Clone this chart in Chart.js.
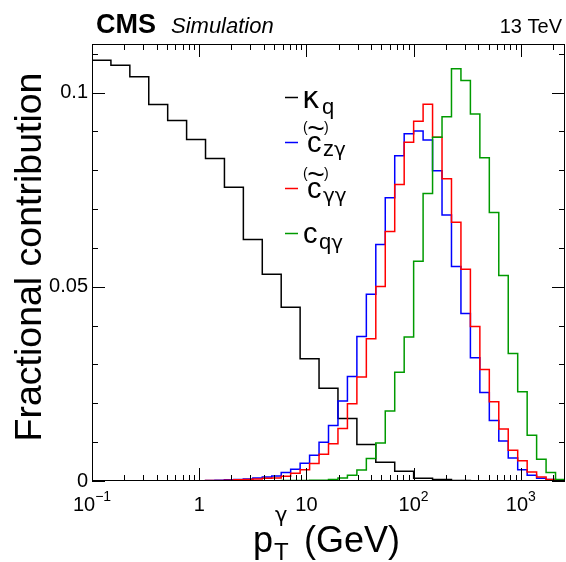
<!DOCTYPE html>
<html>
<head>
<meta charset="utf-8">
<script src="https://cdn.jsdelivr.net/npm/chart.js@4.4.1/dist/chart.umd.min.js"></script>
<style>
  html, body { margin: 0; padding: 0; background: #fff; }
</style>
</head>
<body>
<canvas id="ptChart" width="566" height="562"></canvas>
<script>
// histogram binning (log-spaced in pT)
const xMin = 0.1;
const xMax = 2585;
const yMax = 0.1125;
const nBinsFine = 50;   // coloured histograms
const nBinsCoarse = 25; // kappa_q

// fractional contribution per bin
const kappaQ = [0.1083, 0.1070, 0.1041, 0.0969, 0.0928, 0.0879, 0.0830, 0.0756, 0.0622, 0.0532,
                0.0447, 0.0315, 0.0239, 0.0161, 0.0094, 0.0048, 0.0025, 0.0007, 0.0004, 0.0001,
                0, 0, 0, 0, 0];
const cZg = [0, 0, 0, 0, 0, 0, 0, 0, 0, 0,
             0, 0, 0.0001, 0.0002, 0.0003, 0.0004, 0.0005, 0.0008, 0.0010, 0.0013,
             0.0022, 0.0030, 0.0046, 0.0066, 0.0100, 0.0143, 0.0206, 0.0269, 0.0372, 0.0481,
             0.0609, 0.0729, 0.0837, 0.0894, 0.0901, 0.0878, 0.0799, 0.0685, 0.0552, 0.0431,
             0.0317, 0.0228, 0.0156, 0.0103, 0.0059, 0.0029, 0.0015, 0.0007, 0.0004, 0.0002];
const cGg = [0, 0, 0, 0, 0, 0, 0, 0, 0, 0,
             0, 0, 0.0001, 0.0001, 0.0002, 0.0003, 0.0004, 0.0005, 0.0007, 0.0008,
             0.0012, 0.0020, 0.0029, 0.0045, 0.0069, 0.0096, 0.0135, 0.0199, 0.0268, 0.0366,
             0.0501, 0.0642, 0.0763, 0.0872, 0.0926, 0.0970, 0.0885, 0.0778, 0.0666, 0.0545,
             0.0398, 0.0287, 0.0204, 0.0134, 0.0079, 0.0052, 0.0023, 0.0010, 0.0004, 0.0002];
const cQg = [0, 0, 0, 0, 0, 0, 0, 0, 0, 0,
             0, 0, 0, 0, 0, 0, 0, 0, 0, 0,
             0.0001, 0.0001, 0.0001, 0.0002, 0.0002, 0.0004, 0.0008, 0.0015, 0.0028, 0.0058,
             0.0098, 0.0180, 0.0280, 0.0371, 0.0566, 0.0740, 0.0885, 0.0938, 0.1061, 0.1031,
             0.0945, 0.0832, 0.0691, 0.0529, 0.0328, 0.0230, 0.0118, 0.0056, 0.0022, 0.0004];

// axis ticks
const xTickValues = [0.1, 1, 10, 100, 1000];
const xTickBase = ['10', '1', '10', '10', '10'];
const xTickExp = ['\u22121', '', '', '2', '3'];
const yTickValues = [0, 0.05, 0.1];
const yTickLabels = ['0', '0.05', '0.1'];

const FONT = "'Liberation Sans', Arial, Helvetica, sans-serif";
const GREEK = "'DejaVu Sans', 'Liberation Sans', sans-serif";

// turn bin contents into step points (low edge of every bin + closing edge)
function histPoints(values, nBins) {
    const lo = Math.log10(xMin), hi = Math.log10(xMax);
    const edge = i => Math.pow(10, lo + (hi - lo) * i / nBins);
    const pts = values.map((v, i) => ({ x: edge(i), y: v }));
    pts.push({ x: edge(nBins), y: values[nBins - 1] });
    return pts;
}

// frame, inward ticks, labels, titles and legend in ROOT style
const rootStyle = {
    id: 'rootStyle',
    afterDatasetsDraw(chart) {
        const { ctx, chartArea: a, scales: { x, y } } = chart;
        ctx.save();
        ctx.strokeStyle = '#000';
        ctx.lineWidth = 1;
        ctx.strokeRect(a.left + 0.5, a.top + 0.5, a.right - a.left - 1, a.bottom - a.top - 1);

        ctx.beginPath();
        // x ticks (bottom and top)
        for (let k = -1; k <= 3; k++) {
            for (let m = 1; m <= 9; m++) {
                const v = m * Math.pow(10, k);
                if (v < xMin || v > xMax) continue;
                const px = Math.round(x.getPixelForValue(v)) + 0.5;
                const len = m === 1 ? 13 : 6;
                ctx.moveTo(px, a.bottom); ctx.lineTo(px, a.bottom - len);
                ctx.moveTo(px, a.top); ctx.lineTo(px, a.top + len);
            }
        }
        // y ticks (left and right)
        for (let i = 0; i <= 11; i++) {
            const v = i * 0.01;
            const py = Math.round(y.getPixelForValue(v)) + 0.5;
            const len = (i % 5 === 0) ? 13 : 6;
            ctx.moveTo(a.left, py); ctx.lineTo(a.left + len, py);
            ctx.moveTo(a.right, py); ctx.lineTo(a.right - len, py);
        }
        ctx.stroke();
        ctx.restore();
    },
    afterDraw(chart) {
        const { ctx, chartArea: a, scales: { x, y } } = chart;
        ctx.save();
        ctx.fillStyle = '#000';

        // y tick labels
        ctx.font = '20px ' + FONT;
        ctx.textAlign = 'right';
        ctx.textBaseline = 'middle';
        yTickValues.forEach((v, i) => {
            ctx.fillText(yTickLabels[i], a.left - 4, y.getPixelForValue(v));
        });

        // x tick labels with exponents
        ctx.textBaseline = 'alphabetic';
        ctx.textAlign = 'left';
        xTickValues.forEach((v, i) => {
            const px = x.getPixelForValue(v);
            ctx.font = '20px ' + FONT;
            const wb = ctx.measureText(xTickBase[i]).width;
            ctx.font = '14px ' + FONT;
            const we = xTickExp[i] ? ctx.measureText(xTickExp[i]).width : 0;
            const x0 = px - (wb + we) / 2;
            ctx.font = '20px ' + FONT;
            ctx.fillText(xTickBase[i], x0, 511);
            if (xTickExp[i]) {
                ctx.font = '14px ' + FONT;
                ctx.fillText(xTickExp[i], x0 + wb, 501);
            }
        });

        // x axis title
        ctx.font = '36px ' + FONT;
        ctx.fillText('p', 253, 552);
        ctx.font = '24px ' + FONT;
        ctx.fillText('T', 274, 560);
        ctx.font = '21px ' + GREEK;
        ctx.fillText('\u03b3', 275, 522);
        ctx.font = '36px ' + FONT;
        ctx.fillText('(GeV)', 304, 552);

        // y axis title
        ctx.save();
        ctx.translate(41, 257);
        ctx.rotate(-Math.PI / 2);
        ctx.textAlign = 'center';
        ctx.font = '37.5px ' + FONT;
        ctx.fillText('Fractional contribution', 0, 0);
        ctx.restore();

        // header
        ctx.textAlign = 'left';
        ctx.font = 'bold 27px ' + FONT;
        ctx.fillText('CMS', 96, 33);
        ctx.font = 'italic 22px ' + FONT;
        ctx.fillText('Simulation', 171, 33);
        ctx.textAlign = 'right';
        ctx.font = '20px ' + FONT;
        ctx.fillText('13 TeV', 562, 33);

        // legend
        const legendLines = [
            { y: 97, color: '#000000' },
            { y: 142, color: '#0000ff' },
            { y: 188, color: '#ff0000' },
            { y: 233, color: '#009a00' }
        ];
        ctx.lineWidth = 1.5;
        legendLines.forEach(l => {
            ctx.strokeStyle = l.color;
            ctx.beginPath();
            ctx.moveTo(285, l.y + 0.5);
            ctx.lineTo(298, l.y + 0.5);
            ctx.stroke();
        });
        ctx.textAlign = 'left';
        ctx.fillStyle = '#000';
        // kappa_q
        ctx.font = '30px ' + GREEK;
        ctx.fillText('\u03ba', 302, 108);
        ctx.font = '22px ' + FONT;
        ctx.fillText('q', 322, 114);
        // c~ Z gamma and c~ gamma gamma
        [[152, 'z', '\u03b3'], [198, '', '\u03b3\u03b3']].forEach(([base, sub, greek]) => {
            ctx.font = '14px ' + FONT;
            ctx.fillText('(', 303, base - 20);
            ctx.fillText(')', 324, base - 20);
            ctx.font = '30px ' + FONT;
            ctx.textAlign = 'center';
            ctx.fillText('~', 316, base - 14);
            ctx.textAlign = 'left';
            ctx.font = '29px ' + FONT;
            ctx.fillText('c', 307, base);
            ctx.font = '22px ' + FONT;
            const wz = sub ? ctx.measureText(sub).width : 0;
            if (sub) ctx.fillText(sub, 323, base + 4);
            ctx.font = '20px ' + GREEK;
            ctx.fillText(greek, 323 + wz, base + 4);
        });
        // c q gamma
        ctx.font = '29px ' + FONT;
        ctx.fillText('c', 303, 243);
        ctx.font = '22px ' + FONT;
        ctx.fillText('q', 319, 249);
        const wq = ctx.measureText('q').width;
        ctx.font = '20px ' + GREEK;
        ctx.fillText('\u03b3', 319 + wq, 249);

        ctx.restore();
    }
};

const stepLine = (label, values, n, color, order) => ({
    label: label,
    data: histPoints(values, n),
    borderColor: color,
    borderWidth: 1.5,
    stepped: true,
    pointRadius: 0,
    fill: false,
    order: order
});

new Chart(document.getElementById('ptChart'), {
    type: 'line',
    data: {
        datasets: [
            stepLine('\u03baq', kappaQ, nBinsCoarse, '#000000', 3),
            stepLine('cZ\u03b3', cZg, nBinsFine, '#0000ff', 2),
            stepLine('c\u03b3\u03b3', cGg, nBinsFine, '#ff0000', 1),
            stepLine('cq\u03b3', cQg, nBinsFine, '#009a00', 0)
        ]
    },
    options: {
        responsive: false,
        animation: false,
        devicePixelRatio: 1,
        layout: { padding: { left: 92, top: 44, right: 1, bottom: 81 } },
        scales: {
            x: { type: 'logarithmic', min: xMin, max: xMax, display: false },
            y: { type: 'linear', min: 0, max: yMax, display: false }
        },
        plugins: {
            legend: { display: false },
            tooltip: { enabled: false }
        }
    },
    plugins: [rootStyle]
});
</script>
</body>
</html>
